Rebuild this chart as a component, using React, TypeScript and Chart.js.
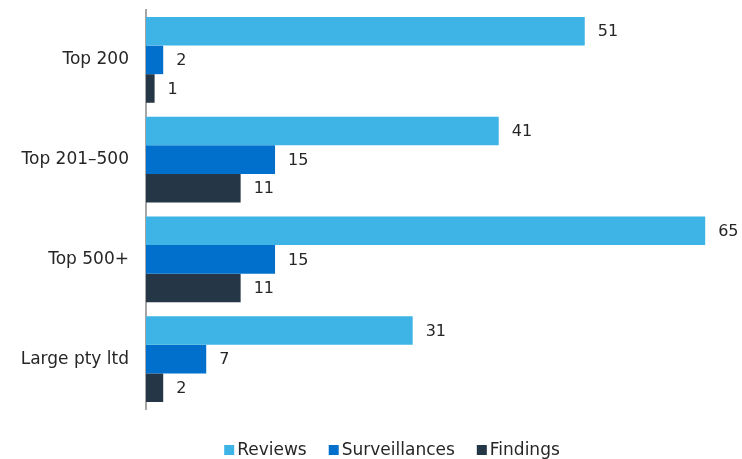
import React, { useEffect, useRef } from "react";
import { Chart, registerables } from "chart.js";

Chart.register(...registerables);

const categories = ["Top 200", "Top 201–500", "Top 500+", "Large pty ltd"];
const reviews = [51, 41, 65, 31];
const surveillances = [2, 15, 15, 7];
const findings = [1, 11, 11, 2];
const seriesNames = ["Reviews", "Surveillances", "Findings"];
const seriesColors = ["#3DB4E5", "#0070CC", "#253746"];

const FONT = "'DejaVu Sans', sans-serif";
const TEXT = "#262626";

const valueLabels = {
  id: "valueLabels",
  afterDatasetsDraw(chart: any) {
    const ctx = chart.ctx;
    ctx.save();
    ctx.font = `16px ${FONT}`;
    ctx.fillStyle = TEXT;
    ctx.textAlign = "left";
    ctx.textBaseline = "middle";
    chart.data.datasets.forEach((ds: any, i: number) => {
      const meta = chart.getDatasetMeta(i);
      meta.data.forEach((el: any, j: number) => {
        ctx.fillText(String(ds.data[j]), el.x + 13, el.y + 1);
      });
    });
    ctx.restore();
  },
};

const bottomLegend = {
  id: "bottomLegend",
  afterDraw(chart: any) {
    const ctx = chart.ctx;
    ctx.save();
    ctx.font = `17px ${FONT}`;
    ctx.textAlign = "left";
    ctx.textBaseline = "middle";
    const box = 10;
    const gapBoxText = 3;
    const gapItems = 22;
    const items = chart.data.datasets.map((ds: any) => ({
      text: ds.label,
      color: ds.backgroundColor,
      w: ctx.measureText(ds.label).width,
    }));
    const total =
      items.reduce((s: number, it: any) => s + box + gapBoxText + it.w, 0) +
      gapItems * (items.length - 1);
    let x = (chart.width - total) / 2 + 21;
    const y = 450;
    items.forEach((it: any) => {
      ctx.fillStyle = it.color;
      ctx.fillRect(x, y - box / 2, box, box);
      x += box + gapBoxText;
      ctx.fillStyle = TEXT;
      ctx.fillText(it.text, x, y + 1);
      x += it.w + gapItems;
    });
    ctx.restore();
  },
};

export default function App() {
  const ref = useRef<HTMLCanvasElement>(null);
  useEffect(() => {
    document.body.style.margin = "0";
    const data = [reviews, surveillances, findings];
    const chart = new Chart(ref.current!, {
      type: "bar",
      data: {
        labels: categories,
        datasets: seriesNames.map((name, i) => ({
          label: name,
          data: data[i],
          backgroundColor: seriesColors[i],
          borderWidth: 0,
          categoryPercentage: 0.86,
          barPercentage: 1,
        })),
      },
      options: {
        indexAxis: "y",
        animation: false,
        responsive: false,
        maintainAspectRatio: false,
        layout: { padding: { top: 10, right: 11, left: 0, bottom: 50 } },
        scales: {
          x: {
            display: false,
            min: 0,
            max: 68,
          },
          y: {
            grid: { display: false, drawOnChartArea: false, drawTicks: false },
            border: { display: true, color: "#A6A6A6", width: 2 },
            ticks: {
              color: TEXT,
              font: { family: FONT, size: 17 },
              padding: 17,
            },
            afterFit(scale: any) {
              scale.width = 146;
              scale.paddingTop = 0;
              scale.paddingBottom = 0;
            },
          },
        },
        plugins: {
          legend: { display: false },
          tooltip: { enabled: false },
        },
      },
      plugins: [valueLabels, bottomLegend],
    });
    return () => chart.destroy();
  }, []);
  return (
    <div style={{ position: "absolute", left: 0, top: 0, width: 742, height: 459 }}>
      <canvas ref={ref} width={742} height={459} style={{ width: 742, height: 459 }} />
    </div>
  );
}
